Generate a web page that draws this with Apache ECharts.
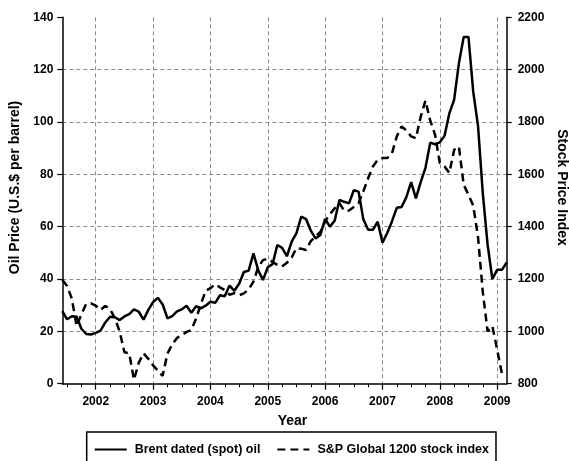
<!DOCTYPE html>
<html>
<head>
<meta charset="utf-8">
<script src="https://cdn.jsdelivr.net/npm/echarts@6/dist/echarts.min.js"></script>
<style>
html,body{margin:0;padding:0;background:#fff;}
#chart{width:569px;height:461px;}
</style>
</head>
<body>
<div id="chart"></div>
<script>
// Monthly categories, Jun 2001 .. Mar 2009
const months = [
  '2001-06','2001-07','2001-08','2001-09','2001-10','2001-11','2001-12',
  '2002-01','2002-02','2002-03','2002-04','2002-05','2002-06','2002-07','2002-08','2002-09','2002-10','2002-11','2002-12',
  '2003-01','2003-02','2003-03','2003-04','2003-05','2003-06','2003-07','2003-08','2003-09','2003-10','2003-11','2003-12',
  '2004-01','2004-02','2004-03','2004-04','2004-05','2004-06','2004-07','2004-08','2004-09','2004-10','2004-11','2004-12',
  '2005-01','2005-02','2005-03','2005-04','2005-05','2005-06','2005-07','2005-08','2005-09','2005-10','2005-11','2005-12',
  '2006-01','2006-02','2006-03','2006-04','2006-05','2006-06','2006-07','2006-08','2006-09','2006-10','2006-11','2006-12',
  '2007-01','2007-02','2007-03','2007-04','2007-05','2007-06','2007-07','2007-08','2007-09','2007-10','2007-11','2007-12',
  '2008-01','2008-02','2008-03','2008-04','2008-05','2008-06','2008-07','2008-08','2008-09','2008-10','2008-11','2008-12',
  '2009-01','2009-02','2009-03'
];

// Brent dated (spot) oil, US$ per barrel
const oilPrice = [
  27.7, 24.6, 25.8, 25.6, 21.0, 19.0, 18.8,
  19.4, 20.3, 23.4, 25.6, 25.4, 24.3, 25.7, 26.6, 28.4, 27.5, 24.5, 28.2,
  31.2, 32.8, 30.3, 25.0, 25.8, 27.6, 28.4, 29.8, 27.1, 29.6, 28.8, 29.8,
  31.3, 30.9, 33.8, 33.4, 37.5, 35.5, 38.2, 42.7, 43.2, 49.8, 43.4, 39.6,
  44.5, 45.7, 53.0, 51.9, 48.7, 54.3, 57.5, 63.8, 62.9, 58.5, 55.5, 56.8,
  63.0, 60.0, 62.3, 70.2, 69.5, 68.9, 73.9, 73.4, 62.8, 58.8, 58.8, 61.9,
  53.9, 57.6, 62.1, 67.2, 67.5, 71.3, 77.0, 70.8, 77.0, 82.5, 92.1, 91.5,
  92.2, 94.8, 103.3, 108.5, 122.5, 132.5, 132.5, 111.5, 98.5, 72.7, 53.2, 40.0,
  43.5, 43.5, 46.3
];

// S&P Global 1200 stock index
const stockIndex = [
  1197, 1173, 1125, 1020, 1065, 1105, 1107,
  1098, 1082, 1097, 1085, 1050, 1000, 920, 916, 815, 880, 916, 895,
  870, 850, 830, 915, 950, 975, 985, 998, 1005, 1049, 1104, 1155,
  1165, 1180, 1168, 1158, 1140, 1146, 1138, 1145, 1160, 1190, 1245, 1272,
  1278, 1265, 1254, 1248, 1262, 1282, 1318, 1316, 1311, 1345, 1362, 1380,
  1420, 1448, 1470, 1490, 1460, 1462, 1475, 1490, 1535, 1585, 1630, 1655,
  1662, 1662, 1681, 1745, 1783, 1768, 1745, 1738, 1820, 1882, 1805, 1752,
  1643, 1630, 1605, 1694, 1706, 1560, 1522, 1480, 1360, 1150, 1000, 1020,
  930, 838, null
];

const oilTicks = {min: 0, max: 140, interval: 20};
const stockTicks = {min: 800, max: 2200, interval: 200};

const FONT = "'Liberation Sans', Arial, sans-serif";
const txt = {fontFamily: FONT, fontWeight: 'bold', fontSize: 12, color: '#000'};
const titleTxt = {fontFamily: FONT, fontWeight: 'bold', fontSize: 14, color: '#000'};
const gridLine = {color: '#8a8a8a', width: 1, type: [4, 3]};

const isJan = (i, v) => v.slice(5) === '01';
const isQuarter = (i, v) => ['01','04','07','10'].indexOf(v.slice(5)) >= 0;

const chart = echarts.init(document.getElementById('chart'), null, {renderer: 'canvas'});
chart.setOption({
  animation: false,
  backgroundColor: '#fff',
  textStyle: {fontFamily: FONT},
  grid: {left: 62.3, right: 62.3, top: 17.3, bottom: 77.3, containLabel: false, outerBoundsMode: 'none'},
  legend: {
    data: ['Brent dated (spot) oil', 'S&P Global 1200 stock index'],
    left: 86.7, top: 432,
    orient: 'horizontal',
    itemWidth: 32, itemHeight: 14, itemGap: 16,
    padding: [11, 7, 11, 7],
    borderColor: '#000', borderWidth: 1.5, borderRadius: 0,
    itemStyle: {opacity: 0, borderWidth: 0},
    textStyle: Object.assign({}, txt, {fontSize: 12.5, padding: [0, 0, 0, 3]})
  },
  xAxis: [{
    type: 'category', data: months, boundaryGap: false, position: 'bottom',
    name: 'Year', nameLocation: 'middle', nameGap: 30,
    nameTextStyle: Object.assign({}, titleTxt, {padding: [0, 0, 0, 16]}),
    axisLine: {show: true, lineStyle: {color: '#000', width: 1.5}},
    axisTick: {show: true, interval: isQuarter, length: 3.5, lineStyle: {color: '#000', width: 1}},
    axisLabel: Object.assign({}, txt, {interval: isJan, margin: 12, formatter: v => v.slice(0, 4)}),
    splitLine: {show: true, interval: isJan, lineStyle: gridLine}
  }, {
    type: 'category', data: months, boundaryGap: false, position: 'bottom', gridIndex: 0,
    axisLine: {show: false},
    axisTick: {show: true, interval: isJan, length: 6, lineStyle: {color: '#000', width: 1.2}},
    axisLabel: {show: false},
    splitLine: {show: false}
  }],
  yAxis: [{
    type: 'value', position: 'left',
    min: oilTicks.min, max: oilTicks.max, interval: oilTicks.interval,
    name: 'Oil Price (U.S.$ per barrel)', nameLocation: 'middle', nameGap: 37, nameRotate: 90,
    nameTextStyle: Object.assign({}, titleTxt, {padding: [0, 0, 0, 26]}),
    axisLine: {show: true, lineStyle: {color: '#000', width: 1.5}},
    axisTick: {show: true, length: 5, lineStyle: {color: '#000', width: 1.2}},
    axisLabel: Object.assign({}, txt, {margin: 9, formatter: v => String(v)}),
    splitLine: {show: true, showMinLine: false, showMaxLine: false, lineStyle: gridLine}
  }, {
    type: 'value', position: 'right',
    min: stockTicks.min, max: stockTicks.max, interval: stockTicks.interval,
    name: 'Stock Price Index', nameLocation: 'middle', nameGap: 47, nameRotate: -90,
    nameTextStyle: Object.assign({}, titleTxt, {padding: [0, 26, 0, 0]}),
    axisLine: {show: true, lineStyle: {color: '#000', width: 1.5}},
    axisTick: {show: true, length: 5, lineStyle: {color: '#000', width: 1.2}},
    axisLabel: Object.assign({}, txt, {margin: 11, formatter: v => String(v)}),
    splitLine: {show: false}
  }],
  series: [{
    name: 'Brent dated (spot) oil', type: 'line', data: oilPrice,
    xAxisIndex: 0, yAxisIndex: 0,
    symbol: 'none', showSymbol: false,
    lineStyle: {color: '#000', width: 2.5, type: 'solid'},
    itemStyle: {color: '#000'}
  }, {
    name: 'S&P Global 1200 stock index', type: 'line', data: stockIndex,
    xAxisIndex: 0, yAxisIndex: 1,
    symbol: 'none', showSymbol: false, connectNulls: false,
    lineStyle: {color: '#000', width: 2.5, type: [8, 5]},
    itemStyle: {color: '#000'}
  }]
});
</script>
</body>
</html>
